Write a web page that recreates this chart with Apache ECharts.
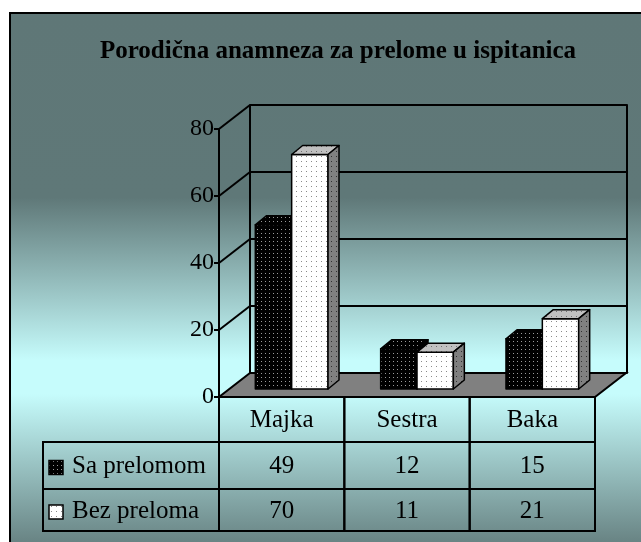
<!DOCTYPE html>
<html>
<head>
<meta charset="utf-8">
<script src="https://cdn.jsdelivr.net/npm/echarts@6/dist/echarts.min.js"></script>
<style>
  html, body { margin: 0; padding: 0; background: #fff; }
  #chart { width: 641px; height: 542px; }
</style>
</head>
<body>
<div id="chart"></div>
<script>
const CATEGORIES = ['Majka', 'Sestra', 'Baka'];
const SA_PRELOMOM = [49, 12, 15];
const BEZ_PRELOMA = [70, 11, 21];
const SERIES_NAMES = ['Sa prelomom', 'Bez preloma'];
const Y_TICKS = [0, 20, 40, 60, 80];

const FONT = 'Liberation Serif';
// depth of the 3d box (front plane -> back wall) and of a single bar
const DX = 31, DY = -24;
const BDX = 11, BDY = -9;

function dots(bg, dot, step) {
  const c = document.createElement('canvas');
  c.width = c.height = step;
  const g = c.getContext('2d');
  g.fillStyle = bg;
  g.fillRect(0, 0, step, step);
  g.fillStyle = dot;
  g.fillRect(1, 1, 1, 1);
  return { type: 'pattern', image: c, repeat: 'repeat' };
}

const FACES = [
  { front: dots('#000', '#9a9a9a', 4), top: dots('#000', '#9a9a9a', 4), side: dots('#000', '#9a9a9a', 4) },
  { front: dots('#fff', '#8a8a8a', 5), top: dots('#c0c0c0', '#707070', 5), side: dots('#808080', '#303030', 5) }
];

const chart = echarts.init(document.getElementById('chart'));

const axisLine = { show: true, lineStyle: { color: '#000', width: 2 } };

function barItem(si) {
  return function (params, api) {
    const i = api.value(0), v = api.value(1);
    const top = api.coord([i, v]);
    const base = api.coord([i, 0]);
    const band = api.size([1, 0])[0];
    const bw = band * 0.29;
    const x0 = si === 0 ? top[0] - bw : top[0];
    const x1 = x0 + bw;
    const f = FACES[si];
    const st = { stroke: '#000', lineWidth: 1.5, lineJoin: 'round' };
    return {
      type: 'group',
      children: [
        { type: 'rect', shape: { x: x0, y: top[1], width: bw, height: base[1] - top[1] },
          style: Object.assign({ fill: f.front }, st) },
        { type: 'polygon', shape: { points: [[x0, top[1]], [x1, top[1]], [x1 + BDX, top[1] + BDY], [x0 + BDX, top[1] + BDY]] },
          style: Object.assign({ fill: f.top }, st) },
        { type: 'polygon', shape: { points: [[x1, top[1]], [x1 + BDX, top[1] + BDY], [x1 + BDX, base[1] + BDY], [x1, base[1]]] },
          style: Object.assign({ fill: f.side }, st) }
      ]
    };
  };
}

// side wall diagonals + floor, drawn from the front axis
function frameItem(params, api) {
  const v = api.value(1);
  const p = api.coord([0, v]);
  const band = api.size([1, 0])[0];
  const left = p[0] - band / 2;
  const children = [];
  if (v === 0) {
    const right = left + band * CATEGORIES.length;
    children.push({
      type: 'polygon',
      shape: { points: [[left, p[1]], [right, p[1]], [right + DX, p[1] + DY], [left + DX, p[1] + DY]] },
      style: { fill: '#808080', stroke: '#000', lineWidth: 2 }
    });
  } else {
    children.push({
      type: 'line',
      shape: { x1: left, y1: p[1], x2: left + DX, y2: p[1] + DY },
      style: { stroke: '#000', lineWidth: 2 }
    });
  }
  return { type: 'group', children: children };
}

const ROWS = [45, 47, 42];

function tableItem(params, api) {
  const i = api.value(0);
  const c = api.coord([i, 0]);
  const w = api.size([1, 0])[0];
  const x0 = c[0] - w / 2;
  const line = { stroke: '#000', lineWidth: 2, fill: 'none' };
  const txt = { fontFamily: FONT, fontSize: 25, fill: '#000', align: 'center', verticalAlign: 'middle' };
  const children = [];
  let y = c[1];
  const texts = [CATEGORIES[i], String(SA_PRELOMOM[i]), String(BEZ_PRELOMA[i])];
  ROWS.forEach(function (h, r) {
    children.push({ type: 'rect', shape: { x: x0, y: y, width: w, height: h }, style: line });
    children.push({ type: 'text', x: x0 + w / 2, y: y + h / 2 + 1, style: Object.assign({ text: texts[r] }, txt) });
    if (i === 0 && r > 0) {
      const lw = 176;
      children.push({ type: 'rect', shape: { x: x0 - lw, y: y, width: lw, height: h }, style: line });
      children.push({ type: 'rect', shape: { x: x0 - lw + 6, y: y + h / 2 - 5, width: 14, height: 14 },
        style: { fill: FACES[r - 1].front, stroke: '#000', lineWidth: 1.5 } });
      children.push({ type: 'text', x: x0 - lw + 29, y: y + h / 2 + 1,
        style: { text: SERIES_NAMES[r - 1], fontFamily: FONT, fontSize: 25, fill: '#000', align: 'left', verticalAlign: 'middle' } });
    }
    y += h;
  });
  return { type: 'group', children: children };
}

const option = {
  backgroundColor: '#fff',
  animation: false,
  title: {
    text: 'Porodična anamneza za prelome u ispitanica',
    left: 333,
    top: 34,
    textAlign: 'center',
    textStyle: { fontFamily: FONT, fontWeight: 'bold', fontSize: 25, color: '#000' }
  },
  graphic: [{
    type: 'rect', z: -100, silent: true,
    shape: { x: 10, y: 13, width: 660, height: 560 },
    style: {
      stroke: '#000', lineWidth: 2,
      fill: { type: 'linear', x: 0, y: 0, x2: 0, y2: 1, colorStops: [
        { offset: 0, color: '#5f7777' },
        { offset: 0.33, color: '#5f7878' },
        { offset: 0.62, color: '#c6fcfc' },
        { offset: 0.68, color: '#c6fcfc' },
        { offset: 0.945, color: '#688383' },
        { offset: 1, color: '#607a7a' }
      ] }
    }
  }],
  grid: [
    { left: 219, top: 129, width: 376, height: 268 },   // front plane
    { left: 250, top: 105, width: 377, height: 268 },   // back wall
    { left: 229, top: 121, width: 376, height: 268 }    // bar plane
  ],
  xAxis: [
    { gridIndex: 0, type: 'category', data: CATEGORIES, show: false },
    { gridIndex: 1, type: 'category', data: CATEGORIES, show: false },
    { gridIndex: 2, type: 'category', data: CATEGORIES, show: false }
  ],
  yAxis: [
    { gridIndex: 0, type: 'value', min: 0, max: 80, interval: 20,
      axisLine: axisLine,
      axisTick: { show: true, inside: false, length: 5, lineStyle: { color: '#000', width: 2 } },
      axisLabel: { fontFamily: FONT, fontSize: 24, color: '#000', margin: 5 },
      splitLine: { show: false } },
    { gridIndex: 1, type: 'value', min: 0, max: 80, interval: 20,
      axisLine: axisLine, axisTick: { show: false }, axisLabel: { show: false },
      splitLine: { show: true, lineStyle: { color: '#000', width: 2 } } },
    { gridIndex: 1, type: 'value', position: 'right', min: 0, max: 80, interval: 20,
      axisLine: axisLine, axisTick: { show: false }, axisLabel: { show: false },
      splitLine: { show: false } },
    { gridIndex: 2, type: 'value', min: 0, max: 80, interval: 20, show: false }
  ],
  series: [
    { type: 'custom', name: 'frame', xAxisIndex: 0, yAxisIndex: 0, clip: false, z: 2,
      data: Y_TICKS.map(function (v) { return [0, v]; }), renderItem: frameItem },
    { type: 'custom', name: SERIES_NAMES[0], xAxisIndex: 2, yAxisIndex: 3, clip: false, z: 3,
      data: SA_PRELOMOM.map(function (v, i) { return [i, v]; }), renderItem: barItem(0) },
    { type: 'custom', name: SERIES_NAMES[1], xAxisIndex: 2, yAxisIndex: 3, clip: false, z: 3,
      data: BEZ_PRELOMA.map(function (v, i) { return [i, v]; }), renderItem: barItem(1) },
    { type: 'custom', name: 'table', xAxisIndex: 0, yAxisIndex: 0, clip: false, z: 4,
      data: CATEGORIES.map(function (c, i) { return [i, 0]; }), renderItem: tableItem }
  ]
};

chart.setOption(option);
</script>
</body>
</html>
